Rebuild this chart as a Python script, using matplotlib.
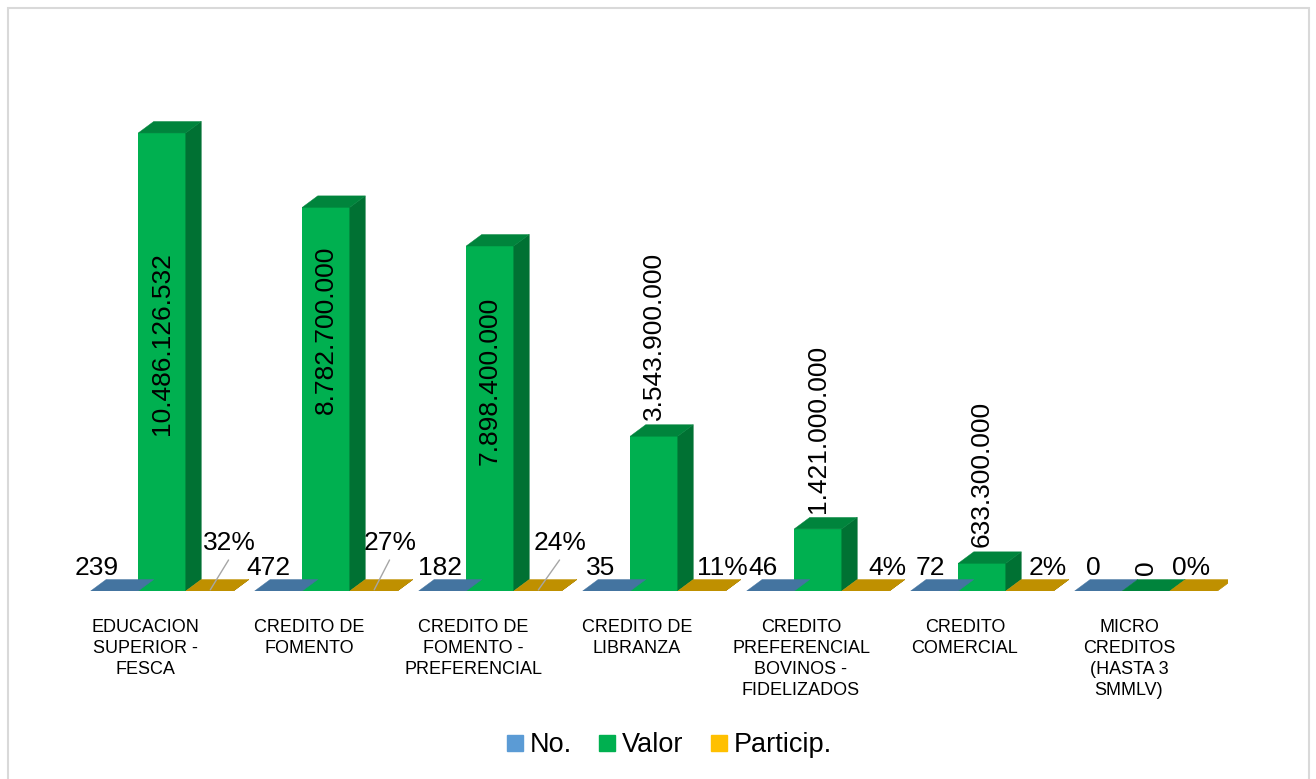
import matplotlib.pyplot as plt
from matplotlib.patches import Polygon, Rectangle
from matplotlib.lines import Line2D
from matplotlib.colors import to_rgb

plt.rcParams['font.family'] = ['Liberation Sans', 'DejaVu Sans']

# Datos
categorias = ["EDUCACION\nSUPERIOR -\nFESCA", "CREDITO DE\nFOMENTO",
              "CREDITO DE\nFOMENTO -\nPREFERENCIAL", "CREDITO DE\nLIBRANZA",
              "CREDITO\nPREFERENCIAL\nBOVINOS -\nFIDELIZADOS", "CREDITO\nCOMERCIAL",
              "MICRO\nCREDITOS\n(HASTA 3\nSMMLV)"]
numero = [239, 472, 182, 35, 46, 72, 0]
valor = [10486126532, 8782700000, 7898400000, 3543900000, 1421000000, 633300000, 0]
particip = [0.32, 0.27, 0.24, 0.11, 0.04, 0.02, 0.00]
series = ["No.", "Valor", "Particip."]

# Estilo / posiciones de etiquetas (pixeles)
colores = ["#5B9BD5", "#00B050", "#FFC000"]
no_dx = [-18, -10, -2, -6, -7, -4, -5]
pct_dx = [20, 17, 23, 21, 22, 18, -2]
pct_alto = [True, True, True, False, False, False, False]
frac_dentro = [0.54, 0.68, 0.61]


def sombra(c, f):
    r, g, b = to_rgb(c)
    return (r * f, g * f, b * f)


W, H = 1316, 779
fig = plt.figure(figsize=(W / 100, H / 100), dpi=100)
ax = fig.add_axes([80 / W, 188 / H, 1148 / W, 491 / H])
ax.set_xlim(-0.5, len(categorias) - 0.5)
ax.set_ylim(0, 1.072 * max(valor))
ax.axis("off")

# profundidad 3D en unidades de datos
px_x = ax.get_position().width * W / len(categorias)
px_y = ax.get_position().height * H / ax.get_ylim()[1]
dx = 15.5 / px_x
dy = 11.5 / px_y
w = 0.29

datos = [numero, valor, particip]
for i in range(len(categorias)):
    for s in range(3):
        h = datos[s][i]
        xl = i + (s - 1) * w - w / 2
        c = colores[s]
        ax.bar(xl, h, width=w, align="edge", color=c, linewidth=0, zorder=2)
        lado = Polygon([(xl + w, 0), (xl + w + dx, dy), (xl + w + dx, h + dy), (xl + w, h)],
                       closed=True, facecolor=sombra(c, 0.64), edgecolor=sombra(c, 0.64),
                       linewidth=0.3, zorder=2)
        tapa = Polygon([(xl, h), (xl + w, h), (xl + w + dx, h + dy), (xl + dx, h + dy)],
                       closed=True, facecolor=sombra(c, 0.75), edgecolor=sombra(c, 0.75),
                       linewidth=0.3, zorder=3)
        ax.add_patch(lado)
        ax.add_patch(tapa)

    # etiqueta No.
    ax.annotate(str(numero[i]), xy=(i - w, 0), xytext=(no_dx[i], 16),
                textcoords="offset pixels", ha="center", va="baseline", fontsize=19)

    # etiqueta Valor
    txt = f"{valor[i]:,}".replace(",", ".")
    if i < len(frac_dentro):
        ax.text(i, valor[i] * frac_dentro[i], txt, rotation=90, ha="center",
                va="center", fontsize=19, zorder=5)
    else:
        ax.annotate(txt, xy=(i, valor[i]), xytext=(0, 16), textcoords="offset pixels",
                    rotation=90, ha="center", va="bottom", fontsize=19, zorder=5)

    # etiqueta Particip.
    yoff = 41 if pct_alto[i] else 16
    ax.annotate(f"{particip[i]:.0%}", xy=(i + w, 0), xytext=(pct_dx[i], yoff),
                textcoords="offset pixels", ha="center", va="baseline", fontsize=19,
                zorder=5)
    if pct_alto[i]:
        ax.annotate("", xy=(i + w, 0), xytext=(pct_dx[i] - 1, 31),
                    textcoords="offset pixels",
                    arrowprops=dict(arrowstyle="-", color="#A6A6A6", lw=1.0,
                                    shrinkA=0, shrinkB=1))

    # categoria
    ax.annotate(categorias[i], xy=(i, 0), xytext=(-17, -28), textcoords="offset pixels",
                ha="center", va="top", fontsize=13, linespacing=1.3, annotation_clip=False)

# leyenda
handles = [Line2D([], [], marker="s", linestyle="none", markersize=11, color=c)
           for c in colores]
fig.legend(handles, series, loc="center", bbox_to_anchor=(668 / W, 1 - 745 / H),
           ncol=3, frameon=False, fontsize=19.5, handletextpad=0.15,
           columnspacing=0.9, handlelength=0.8)

# borde del grafico
fig.patches.append(Rectangle((7.5 / W, -0.05), 1301 / W, 1.05 - 7.5 / H,
                             transform=fig.transFigure, fill=False,
                             edgecolor="#D9D9D9", linewidth=1.5))

plt.savefig("out.png", dpi=100)
